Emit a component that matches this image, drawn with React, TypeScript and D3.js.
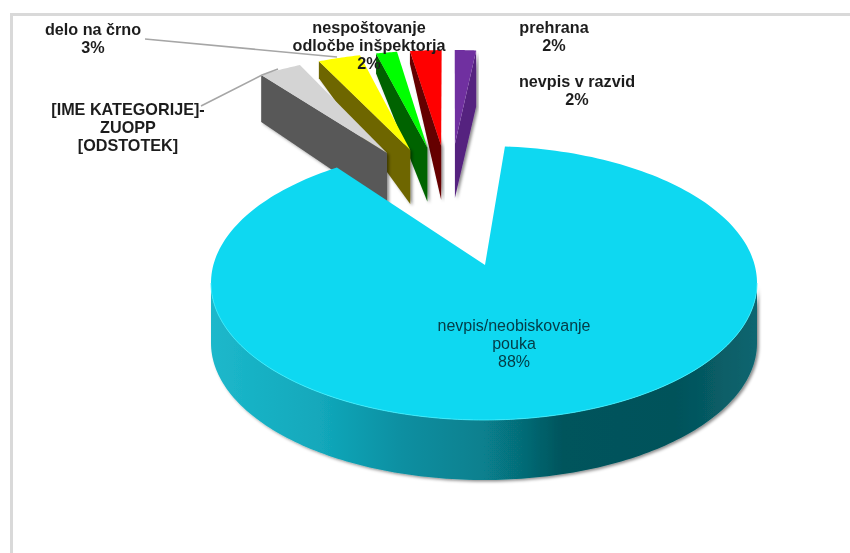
import React from "react";
import * as d3 from "d3";

const W = 850;
const H = 553;

// data
const mainCategory = ["nevpis/neobiskovanje", "pouka"];
const mainValue = 88;
const sliceNames = ["ZUOPP", "delo na črno", "nespoštovanje odločbe inšpektorja", "prehrana", "nevpis v razvid"];
const sliceValues = [3.4, 3.2, 1.55, 2.3, 1.55];
const sliceTops = ["#d4d4d4", "#ffff00", "#00ff00", "#ff0000", "#7030a0"];
const sliceSides = ["#595959", "#6e6600", "#006400", "#650000", "#55207f"];
const sliceGaps = [0, 4.1, 3.2, 2.5, 2.5];
const outerDepths = [47, 17, 20, 13, 56];

const rad = (d: number) => (d * Math.PI) / 180;
const deg = (r: number) => (r * 180) / Math.PI;

// main ellipse projection
const main = { cx: 484, cy: 283, rx: 273, ry: 137, depth: 60, apexX: 485, apexY: 265 };
const onMain = (a: number, dz = 0): [number, number] => [
  main.cx + main.rx * Math.sin(a),
  main.cy - main.ry * Math.cos(a) + dz,
];

// outer ellipse the exploded slices end on
const outer = { cx: 450, cy: 162, rx: 300, ry: 112 };
const onOuter = (a: number): [number, number] => [
  outer.cx + outer.rx * Math.sin(a),
  outer.cy - outer.ry * Math.cos(a),
];

const apexX = d3.scaleLinear().domain([-34.5, 3]).range([387, 455]);
const apexY = d3.scaleLinear().domain([-34.5, 3]).range([153, 144]);
const apexDepth = 54;

const sliceStart = rad(-39);
const sliceSpan = rad(31.7);
const slicePie = d3
  .pie<number>()
  .value((d) => d)
  .sort(null)
  .startAngle(sliceStart)
  .endAngle(sliceStart + sliceSpan);

const mainStart = rad(4.4);
const mainSweep = rad(323);
const mainPie = d3
  .pie<number>()
  .value((d) => d)
  .sort(null)
  .startAngle(mainStart)
  .endAngle(mainStart + mainSweep);
const mainArc = mainPie([mainValue])[0];

const line = d3.line<[number, number]>();
const closed = (pts: [number, number][]) => line(pts) + "Z";
const sweep = (a0: number, a1: number, n = 160) =>
  d3.range(n + 1).map((i) => a0 + ((a1 - a0) * i) / n);

const gapSums = d3.cumsum(sliceGaps);
const slices = slicePie(sliceValues).map((d, i) => {
  const a0 = d.startAngle + rad(gapSums[i]);
  const a1 = d.endAngle + rad(gapSums[i]);
  const mid = deg((a0 + a1) / 2);
  const apex: [number, number] = [apexX(mid), apexY(mid)];
  const top = [...sweep(a0, a1, 16).map(onOuter), apex] as [number, number][];
  const edge = onOuter(mid > 0 ? a1 : a0);
  const side: [number, number][] = [
    edge,
    apex,
    [apex[0], apex[1] + apexDepth],
    [edge[0], edge[1] + outerDepths[i]],
  ];
  return { name: sliceNames[i], top, side, topColor: sliceTops[i], sideColor: sliceSides[i] };
});

// main slice
const mainTop: [number, number][] = [
  [main.apexX, main.apexY],
  ...sweep(mainArc.startAngle, mainArc.endAngle, 240).map((a) => onMain(a)),
];
const wallAngles = sweep(rad(90), rad(270), 160);
const mainWall: [number, number][] = [
  ...wallAngles.map((a) => onMain(a)),
  ...wallAngles.slice().reverse().map((a) => onMain(a, main.depth)),
];
const mainRim = line(wallAngles.map((a) => onMain(a)))!;

const wallStops: [number, string][] = [
  [0, "#1cb8cb"],
  [0.2, "#12a8bb"],
  [0.35, "#0b8fa1"],
  [0.5, "#07808e"],
  [0.57, "#066c77"],
  [0.645, "#03545c"],
  [0.85, "#04525a"],
  [1, "#0a6670"],
];

type Lab = { lines: string[]; x: number; y: number };
const labels: Lab[] = [
  { lines: ["delo na črno", "3%"], x: 93, y: 35 },
  { lines: ["[IME KATEGORIJE]-", "ZUOPP", "[ODSTOTEK]"], x: 128, y: 115 },
  { lines: ["nespoštovanje", "odločbe inšpektorja", "2%"], x: 369, y: 33 },
  { lines: ["prehrana", "2%"], x: 554, y: 33 },
  { lines: ["nevpis v razvid", "2%"], x: 577, y: 87 },
];
const lineGap = 18;

const leaders: [number, number][][] = [
  [[145, 39], [337, 57]],
  [[201, 106], [262, 75], [278, 69]],
];

const font = "'Liberation Sans', Arial, sans-serif";

export default function App() {
  return (
    <svg
      width={W}
      height={H}
      viewBox={`0 0 ${W} ${H}`}
      style={{ position: "absolute", left: 0, top: 0, background: "#fff" }}
    >
      <defs>
        <linearGradient id="wall" gradientUnits="userSpaceOnUse" x1={main.cx - main.rx} x2={main.cx + main.rx} y1={0} y2={0}>
          {wallStops.map(([o, c]) => (
            <stop key={o} offset={o} stopColor={c} />
          ))}
        </linearGradient>
        <filter id="shade" x="-10%" y="-10%" width="120%" height="120%">
          <feDropShadow dx={2} dy={1.5} stdDeviation={1.8} floodColor="#000" floodOpacity={0.45} />
        </filter>
        <filter id="soft" x="-5%" y="-5%" width="110%" height="110%">
          <feGaussianBlur stdDeviation={0.35} />
        </filter>
      </defs>

      <path d="M11.5 553V14.5H850" fill="none" stroke="#d9d9d9" strokeWidth={3} />

      {slices
        .slice()
        .reverse()
        .map((s) => (
          <g key={s.name}>
            <path d={closed(s.side)} fill={s.sideColor} filter="url(#shade)" />
            <path d={closed(s.top)} fill={s.topColor} />
          </g>
        ))}

      <path d={closed(mainWall)} fill="url(#wall)" filter="url(#shade)" />
      <path d={closed(mainTop)} fill="#0ed8f1" />
      <path d={mainRim} fill="none" stroke="#3ff0ff" strokeWidth={1} opacity={0.8} />

      {leaders.map((pts, i) => (
        <path key={i} d={line(pts)!} fill="none" stroke="#a6a6a6" strokeWidth={1.6} />
      ))}

      <g filter="url(#soft)">
        {labels.map((l) => (
          <text key={l.lines[0]} textAnchor="middle" fontFamily={font} fontWeight={700} fontSize={16.2} fill="#1f1f1f">
            {l.lines.map((t, i) => (
              <tspan key={i} x={l.x} y={l.y + i * lineGap}>
                {t}
              </tspan>
            ))}
          </text>
        ))}
        <text textAnchor="middle" fontFamily={font} fontSize={16} fill="#073b45">
          {[...mainCategory, `${mainValue}%`].map((t, i) => (
            <tspan key={i} x={514} y={331 + i * lineGap}>
              {t}
            </tspan>
          ))}
        </text>
      </g>
    </svg>
  );
}
